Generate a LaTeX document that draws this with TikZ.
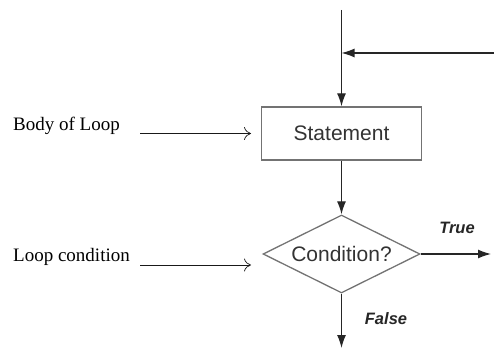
\documentclass[tikz,border=0pt]{standalone}
\usepackage{fontspec}
\setmainfont{Liberation Serif}
\newfontfamily\arialfont{Liberation Sans}
\usetikzlibrary{shapes.geometric,arrows.meta}
\begin{document}
\begin{tikzpicture}[x=1pt,y=-1pt,
  flow/.style={draw=black!85,line width=1.3pt,-{Latex[length=13pt,width=9pt]}},
  note/.style={draw=black!90,line width=0.7pt,-{To[length=7pt,width=13pt]}},
  stmtbox/.style={draw=black!55,line width=1.3pt,minimum width=160pt,minimum height=53pt,inner sep=0pt,
    font=\arialfont\fontsize{21}{24}\selectfont,text=black!80},
  decision/.style={diamond,draw=black!55,line width=1.3pt,aspect=2,inner sep=0pt,
    minimum width=157pt,minimum height=78pt,font=\arialfont\fontsize{21}{24}\selectfont,text=black!80},
  caption/.style={anchor=west,inner sep=0pt,font=\fontsize{19}{22}\selectfont},
  branch/.style={inner sep=0pt,font=\arialfont\bfseries\itshape\fontsize{16.5}{19}\selectfont,text=black!85}]
  \useasboundingbox (0,0) rectangle (494,352);

  % flowchart blocks
  \node[stmtbox] (stmt) at (341.5,133.5) {Statement};
  \node[decision] (cond) at (341.5,254) {Condition?};

  % loop entry and return path
  \coordinate (entry) at (341.5,10);
  \coordinate (back) at (494,53);
  \coordinate (join) at (341.5,53);
  \coordinate (trueend) at (491,254);
  \coordinate (falseend) at (341.5,348);

  \draw[line width=1.3pt,draw=black!85] (entry) -- (join);
  \draw[flow] (join) -- (stmt.north);
  \draw[flow] (back) -- (join);
  \draw[flow] (stmt.south) -- (cond.north);
  \draw[flow] (cond.east) -- (trueend);
  \draw[flow] (cond.south) -- (falseend);

  % branch labels
  \node[branch] (tlabel) at (457,228) {True};
  \node[branch] (flabel) at (386,319) {False};

  % side annotations
  \node[caption] (body) at (13,126) {Body of Loop};
  \node[caption] (lcond) at (13,257) {Loop condition};
  \coordinate (bodyfrom) at (140,133.5);
  \coordinate (bodyto) at (251,133.5);
  \coordinate (condfrom) at (140,265);
  \coordinate (condto) at (251,265);
  \draw[note] (bodyfrom) -- (bodyto);
  \draw[note] (condfrom) -- (condto);
\end{tikzpicture}
\end{document}
